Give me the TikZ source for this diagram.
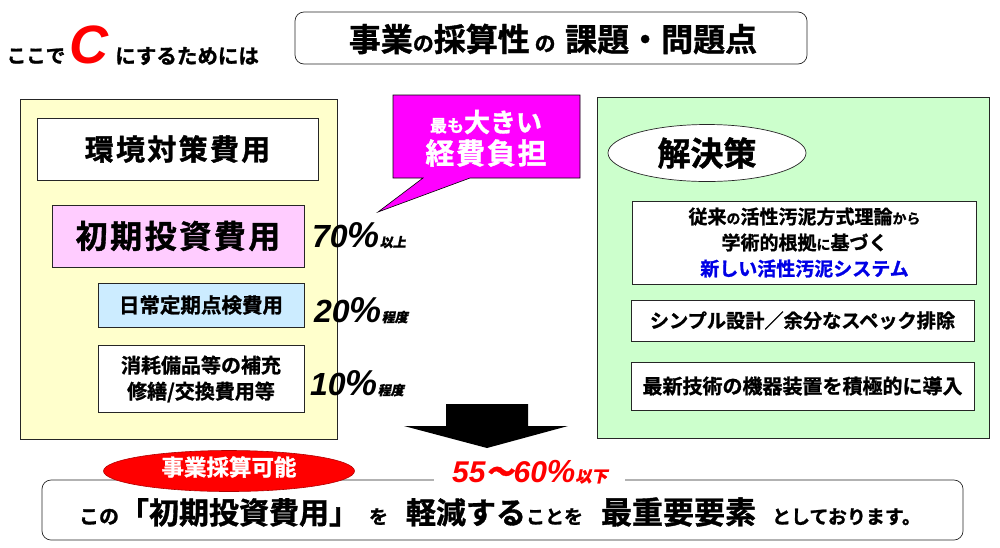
\documentclass[tikz,border=0pt]{standalone}
\usepackage{fontspec}
\setmainfont{Noto Sans CJK JP}[BoldFont={Noto Sans CJK JP Bold}, BoldFeatures={FakeBold=1.2}]
\newfontfamily\jpsl{Noto Sans CJK JP Bold}[FakeSlant=0.2, FakeBold=1.2]
\newfontfamily\lib{Liberation Sans}
\usetikzlibrary{shapes.geometric}
\newcommand\fs[1]{\fontsize{#1}{#1}\selectfont}
\definecolor{yellowbg}{HTML}{FFFFCC}
\definecolor{pinkbox}{HTML}{FFCCFF}
\definecolor{bluebox}{HTML}{CCECFF}
\definecolor{greenbg}{HTML}{CCFFCC}
\definecolor{callout}{HTML}{FF00FF}
\definecolor{bluetxt}{HTML}{0000E6}
\begin{document}
\begin{tikzpicture}[x=1pt,y=-1pt,
  bx/.style={draw=black!85, line width=0.7pt, rectangle, inner sep=0pt, align=center, font=\bfseries},
  lbl/.style={inner sep=0pt, align=center, font=\bfseries},
  pct/.style={inner sep=0pt, anchor=base west}]
\useasboundingbox[fill=white] (0,0) rectangle (1000,547);

% top-left phrase
\node[lbl] (koko) at (36,56) {\fs{19.5}ここで};
\node[lbl, text=red] (cc) at (89,45) {\lib\bfseries\itshape\fs{54}C};
\node[lbl, anchor=west] (suru) at (115,56) {\fs{20.5}にするためには};

% title
\node[bx, rounded corners=9pt, minimum width=512pt, minimum height=52pt] (title) at (551,38) {};
\node[lbl] (titletxt) at (553,39) {\fs{32}事業\fs{21}の\fs{32}採算性\fs{21}\ の\ \ \fs{32}課題・問題点};

% left panel
\node[bx, fill=yellowbg, minimum width=317pt, minimum height=340pt] (left) at (178.5,269) {};
\node[bx, fill=white, minimum width=281pt, minimum height=62pt] (kankyo) at (177.5,149) {\fs{29}\addfontfeatures{LetterSpace=8}環境対策費用};
\node[bx, fill=pinkbox, minimum width=252pt, minimum height=62pt] (shoki) at (178,236) {\fs{32}\addfontfeatures{LetterSpace=8}初期投資費用};
\node[bx, fill=bluebox, minimum width=206pt, minimum height=44pt] (nichijo) at (201,305) {\fs{20.5}日常定期点検費用};
\node[bx, fill=white, minimum width=206pt, minimum height=67pt, font=\bfseries\fontsize{20}{26}\selectfont] (shomo) at (201,379) {消耗備品等の補充\\修繕/交換費用等};

% percentages
\node[pct] (p70) at (312,247) {\lib\bfseries\itshape\fs{32}70{\fs{36}\%}{\jpsl\fs{13}以上}};
\node[pct] (p20) at (314,322) {\lib\bfseries\itshape\fs{32}20{\fs{36}\%}{\jpsl\fs{13}程度}};
\node[pct] (p10) at (310,395) {\lib\bfseries\itshape\fs{32}10{\fs{36}\%}{\jpsl\fs{13}程度}};

% callout
\draw[fill=callout, draw=black, line width=0.6pt] (393,95) -- (580,95) -- (580,178) -- (470,178) -- (378,212) -- (423,178) -- (393,178) -- cycle;
\node[lbl, text=white] (big1) at (486,122) {\fs{17}最も\fs{26}大きい};
\node[lbl, text=white] (big2) at (486,153) {\fs{29}\addfontfeatures{LetterSpace=6}経費負担};

% right panel
\node[bx, fill=greenbg, minimum width=392pt, minimum height=341pt] (right) at (793,267.5) {};
\node[ellipse, draw=black!85, line width=0.7pt, fill=white, minimum width=198pt, minimum height=57pt, inner sep=0pt, font=\bfseries] (kai) at (707,153) {\fs{33}解決策};
\node[bx, fill=white, minimum width=344pt, minimum height=83pt, font=\bfseries\fontsize{19}{26}\selectfont] (s1) at (804.5,242.5) {従来{\fs{14}の}活性汚泥方式理論{\fs{14}から}\\学術的根拠{\fs{14}に}基づく\\\textcolor{bluetxt}{新しい活性汚泥システム}};
\node[bx, fill=white, minimum width=343pt, minimum height=41pt] (s2) at (802.5,320.5) {\fs{19.2}シンプル設計／余分なスペック排除};
\node[bx, fill=white, minimum width=343pt, minimum height=48pt] (s3) at (802.5,386) {\fs{20}最新技術の機器装置を積極的に導入};

% big arrow
\fill[black] (446,404) -- (528,404) -- (528,426) -- (568,426) -- (487,448) -- (404,426) -- (446,426) -- cycle;

% bottom box
\node[bx, rounded corners=9pt, minimum width=921pt, minimum height=60pt] (bottom) at (502.5,510) {};
\node[fill=white, inner xsep=18pt, inner ysep=2pt, anchor=base west, text=red] (pctred) at (434,482) {\lib\bfseries\itshape\fs{30}55{\jpsl\fs{28}～}60{\fs{32}\%}{\jpsl\fs{16}以下}};
\node[ellipse, fill=red, draw=red!70!black, line width=0.6pt, minimum width=251pt, minimum height=41pt, inner sep=0pt] (kanou) at (229,471) {};
\node[lbl, text=white] (kanoutxt) at (229,467) {\fs{22.5}事業採算可能};
\node[lbl] (bottomtxt) at (500,512) {\fs{20}この\fs{30}「初期投資費用」\hspace{10pt}\fs{19}を\hspace{18pt}\fs{30}軽減する\fs{19}ことを\hspace{18pt}\fs{31}最重要要素\hspace{16pt}\fs{19}としております。};
\end{tikzpicture}
\end{document}
